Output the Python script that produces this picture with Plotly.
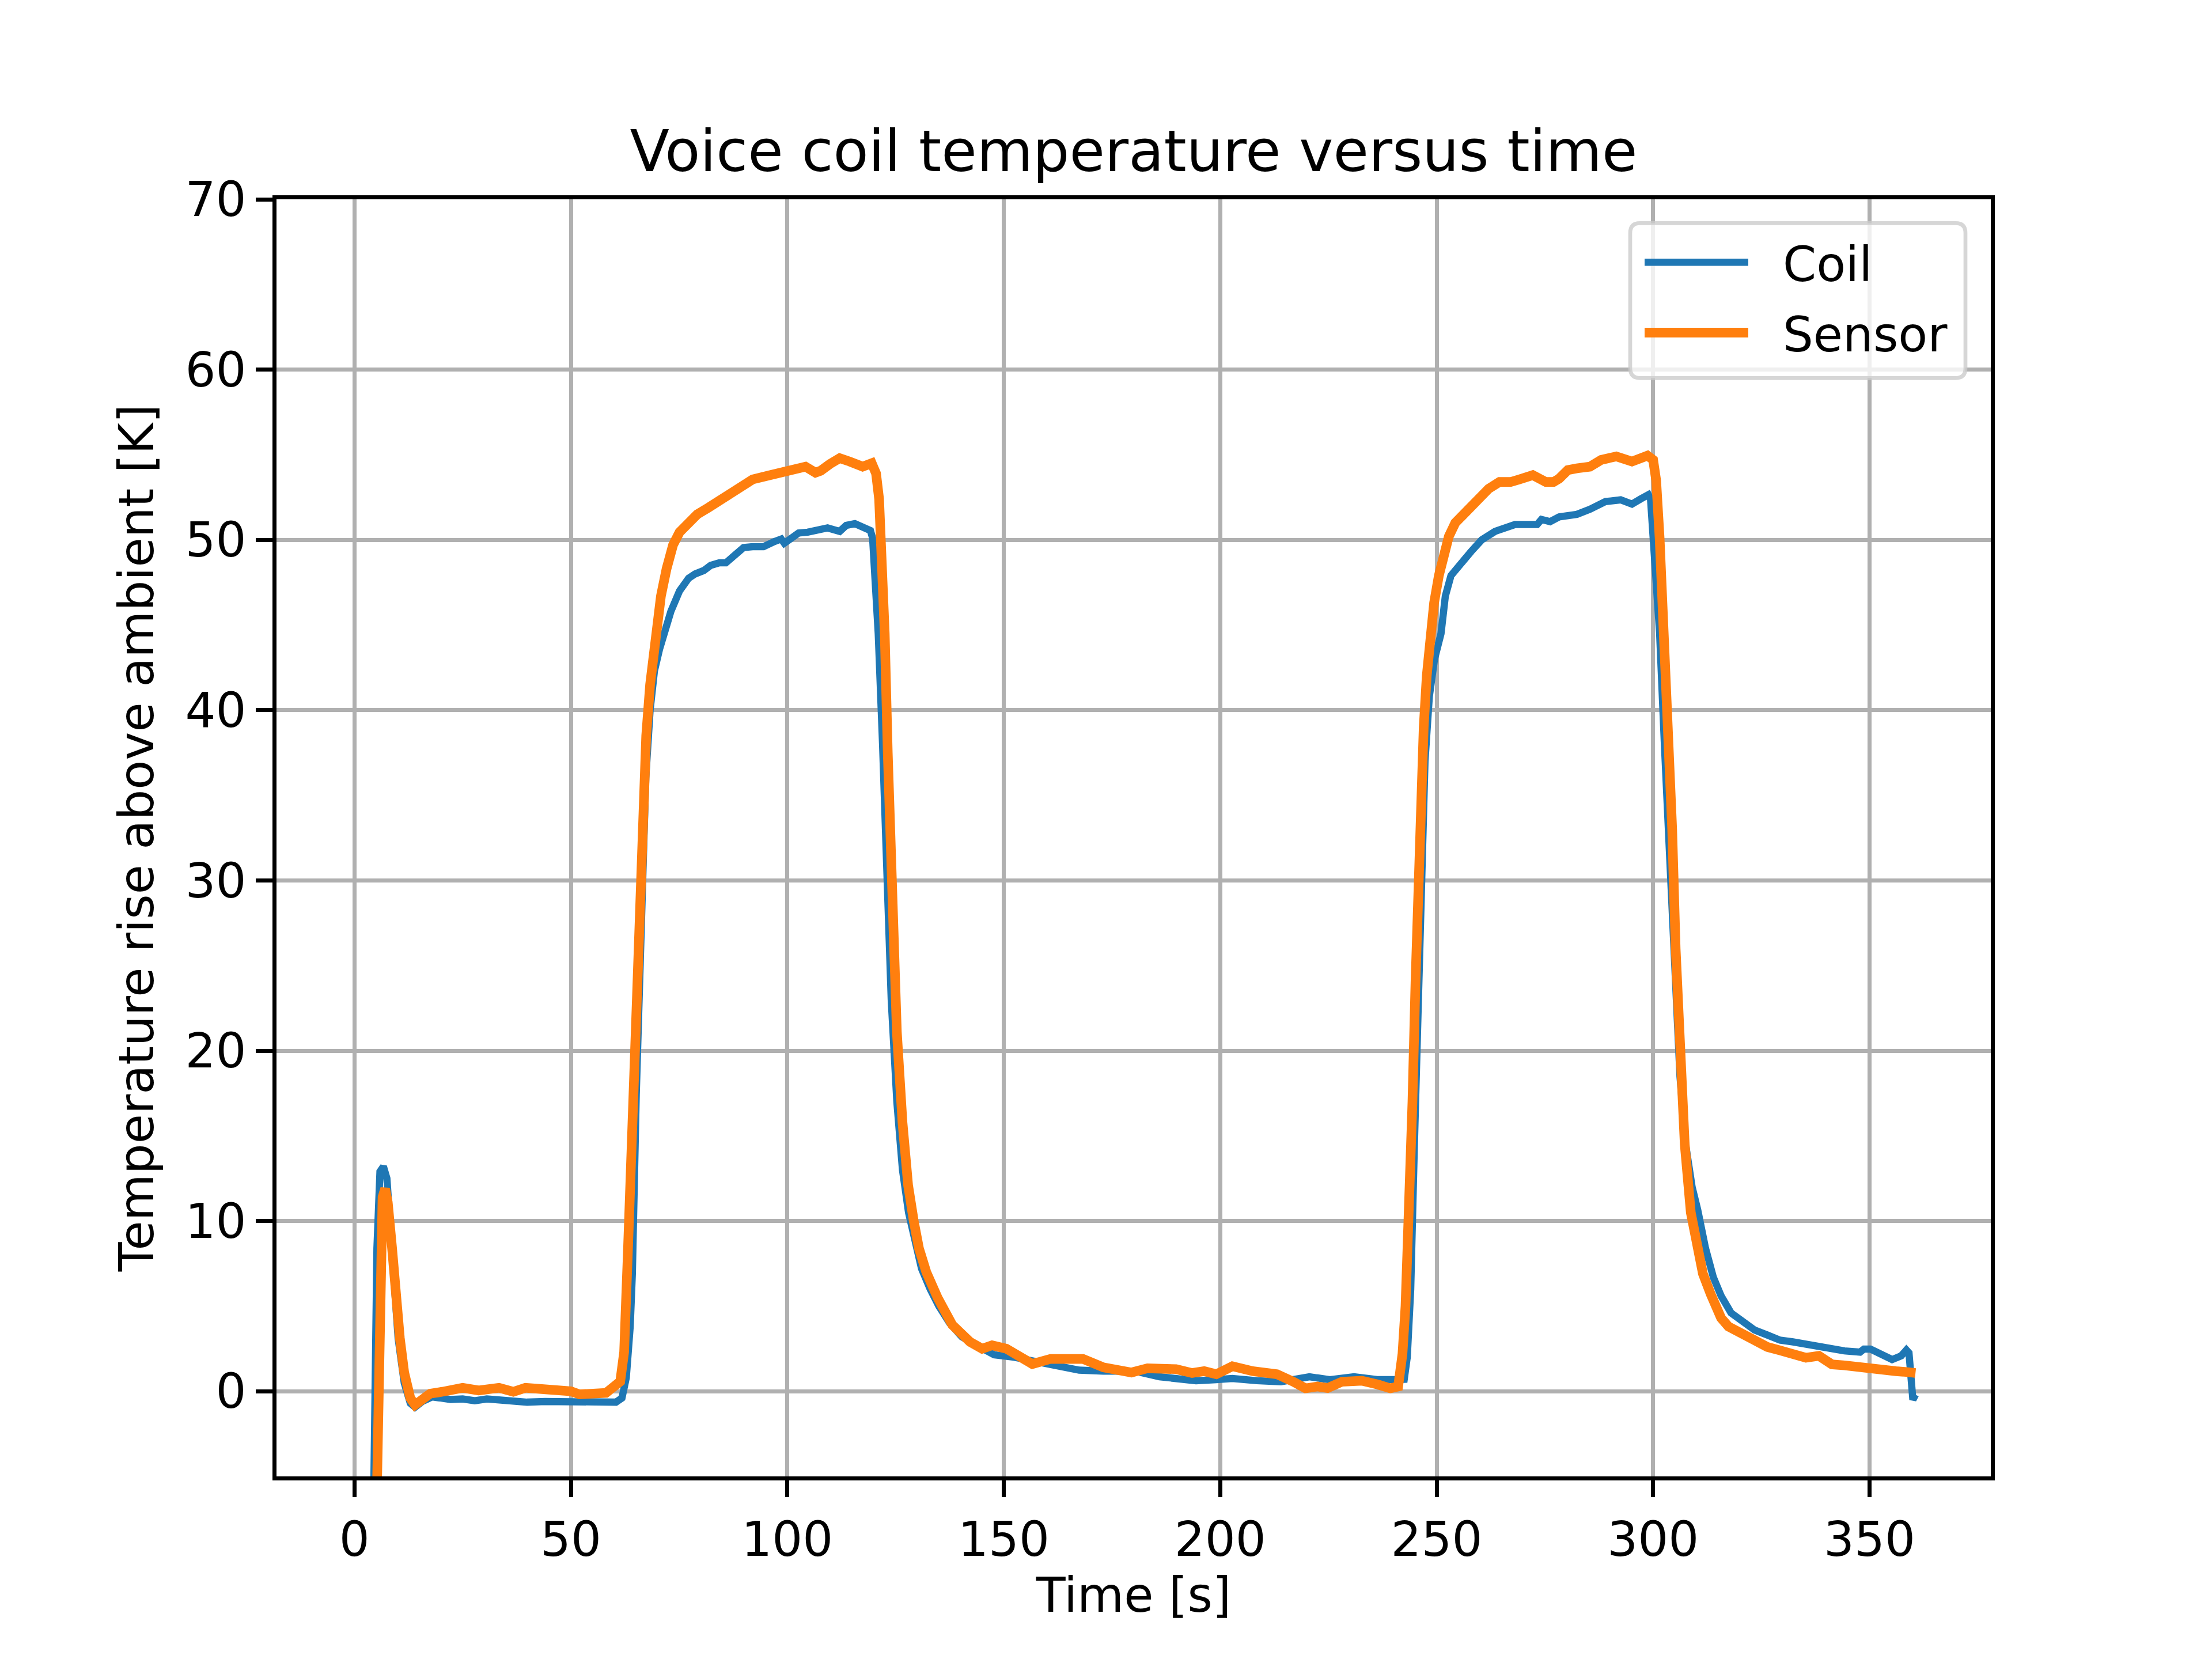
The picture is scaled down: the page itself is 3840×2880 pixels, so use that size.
import plotly.graph_objects as go

# ---------------- data ----------------
coil_t = [4.0, 5.2, 5.9, 6.7, 7.5, 8.2, 9.1, 10.1, 11.5, 12.9, 14.0, 15.7, 18.0, 22.2, 25.0, 27.8,
          30.6, 35.3, 39.9, 44.0, 47.4, 50.2, 56.7, 60.4, 61.8, 62.8, 63.7, 64.2, 65.1, 65.8, 66.5,
          67.3, 68.3, 69.3, 70.5, 71.6, 73.1, 75.1, 77.2, 78.7, 80.7, 82.3, 84.3, 85.8, 87.9, 89.9,
          92.0, 94.5, 97.0, 98.6, 99.3, 100.6, 102.6, 104.7, 106.2, 109.3, 112.1, 113.6, 115.6,
          117.4, 119.2, 119.7, 120.2, 121.0, 122.0, 123.0, 124.0, 125.3, 126.6, 128.0, 129.5,
          131.0, 133.0, 135.0, 137.5, 140.3, 143.0, 147.8, 152.4, 157.1, 161.8, 167.4, 173.0,
          180.4, 186.0, 194.4, 199.1, 202.8, 208.5, 214.0, 220.6, 225.3, 230.9, 236.5, 240.2,
          242.5, 243.2, 244.0, 244.8, 245.6, 246.4, 247.3, 248.3, 249.5, 251.0, 252.0, 253.3,
          254.8, 257.9, 260.4, 263.5, 268.1, 273.2, 274.2, 276.2, 278.3, 282.4, 285.4, 289.0,
          292.5, 295.1, 297.1, 298.9, 299.4, 299.9, 300.7, 301.5, 302.6, 303.8, 305.0, 306.2,
          307.5, 309.0, 310.3, 312.1, 313.9, 315.7, 318.0, 320.4, 323.4, 326.4, 329.3, 332.3,
          335.3, 338.3, 341.3, 344.2, 347.8, 348.7, 350.2, 352.6, 355.2, 357.3, 358.5, 359.1,
          359.7, 360.0, 360.6]
coil_k = [-15.0, 8.4, 12.9, 13.2, 12.5, 9.9, 6.1, 3.1, 0.5, -0.7, -0.94, -0.6, -0.33, -0.48, -0.45,
          -0.56, -0.45, -0.53, -0.64, -0.6, -0.59, -0.68, -0.64, -0.64, -0.4, 0.8, 3.8, 6.9, 17.4,
          24.0, 30.0, 36.0, 40.0, 42.3, 43.6, 44.5, 45.8, 47.0, 47.75, 48.0, 48.2, 48.5, 48.65,
          48.65, 49.1, 49.55, 49.6, 49.6, 49.9, 50.05, 49.8, 50.0, 50.4, 50.45, 50.5, 50.7, 50.5,
          50.85, 50.95, 50.7, 50.55, 50.1, 47.9, 44.5, 38.0, 30.0, 23.0, 17.0, 13.0, 10.5, 8.6,
          7.2, 6.0, 5.0, 4.0, 3.2, 2.8, 2.14, 2.0, 1.75, 1.52, 1.24, 1.18, 1.18, 0.85, 0.62, 0.68,
          0.75, 0.62, 0.56, 0.85, 0.68, 0.85, 0.68, 0.68, 0.7, 2.0, 6.0, 14.0, 22.0, 30.0, 37.0,
          40.8, 43.0, 44.5, 46.7, 47.9, 48.4, 49.3, 50.0, 50.5, 50.9, 50.9, 51.2, 51.07, 51.35,
          51.5, 51.8, 52.25, 52.35, 52.1, 52.4, 52.65, 52.4, 50.7, 47.9, 44.5, 38.0, 31.0, 24.0,
          18.5, 14.5, 12.0, 10.65, 8.4, 6.7, 5.6, 4.6, 4.1, 3.6, 3.3, 3.0, 2.9, 2.76, 2.65, 2.42,
          2.37, 2.3, 2.48, 2.48, 2.2, 1.86, 2.08, 2.42, 2.25, -0.4, -0.5, -0.2]

sensor_t = [4.5, 5.9, 6.5, 7.1, 7.7, 8.7, 9.6, 10.5, 11.5, 12.9, 14.0, 15.7, 17.5, 20.3, 22.0,
            25.0, 28.7, 31.0, 33.4, 36.7, 39.5, 43.7, 47.4, 50.0, 52.0, 56.7, 58.1, 61.4, 62.3,
            63.2, 64.2, 65.0, 65.8, 66.6, 67.4, 68.3, 69.5, 70.8, 72.1, 73.6, 75.1, 76.7, 79.2,
            81.8, 83.8, 85.8, 89.4, 92.0, 96.0, 99.1, 101.6, 104.2, 106.5, 107.7, 109.8, 112.1,
            114.4, 116.7, 117.4, 119.5, 120.5, 121.2, 121.8, 122.5, 123.2, 124.1, 125.3, 126.6,
            127.9, 129.2, 130.4, 132.1, 134.7, 138.1, 140.3, 142.2, 145.0, 147.3, 150.6, 154.3,
            156.6, 160.8, 163.6, 166.0, 168.3, 173.0, 179.5, 183.2, 189.8, 193.5, 196.3, 199.1,
            202.8, 207.5, 213.1, 216.9, 219.7, 222.5, 224.8, 228.1, 232.7, 236.5, 239.3, 241.1,
            242.1, 242.8, 243.5, 244.4, 245.1, 245.7, 246.4, 247.0, 247.7, 248.5, 249.4, 250.5,
            251.8, 252.8, 254.3, 256.4, 258.9, 262.0, 264.5, 267.1, 269.1, 272.2, 275.2, 277.0,
            278.3, 280.3, 282.4, 285.4, 288.0, 291.5, 295.1, 298.7, 300.0, 300.7, 301.5, 302.5,
            303.5, 304.4, 305.2, 306.1, 307.3, 308.7, 310.3, 311.5, 313.3, 315.7, 317.4, 320.4,
            323.4, 326.4, 329.3, 332.3, 335.3, 338.3, 339.5, 341.3, 344.2, 347.2, 350.2, 353.2,
            356.1, 358.5, 360.6]
sensor_k = [-15.0, 6.9, 11.4, 11.9, 11.1, 8.4, 5.3, 3.1, 1.1, -0.4, -0.8, -0.5, -0.14, -0.03, 0.05,
            0.2, 0.05, 0.12, 0.2, -0.03, 0.2, 0.12, 0.08, 0.0, -0.18, -0.18, -0.1, 0.57, 2.3, 8.4,
            15.9, 21.0, 28.0, 34.0, 38.5, 41.5, 44.5, 46.7, 48.3, 49.7, 50.45, 50.9, 51.5, 51.9,
            52.2, 52.6, 53.1, 53.55, 53.8, 53.95, 54.2, 54.3, 53.95, 54.06, 54.45, 54.8, 54.6,
            54.3, 54.3, 54.5, 53.9, 52.4, 49.0, 44.5, 37.5, 29.3, 21.1, 15.8, 12.1, 10.0, 8.4, 7.0,
            5.5, 3.9, 3.3, 2.9, 2.5, 2.7, 2.5, 1.9, 1.6, 1.9, 1.9, 1.8, 1.9, 1.4, 1.1, 1.35, 1.3,
            1.07, 1.18, 1.0, 1.47, 1.18, 1.0, 0.56, 0.17, 0.28, 0.19, 0.56, 0.62, 0.39, 0.17, 0.28,
            2.2, 5.0, 9.5, 17.0, 24.0, 29.5, 35.0, 39.0, 42.0, 44.5, 46.3, 47.9, 49.4, 50.2, 51.0,
            51.6, 52.25, 53.0, 53.4, 53.4, 53.55, 53.8, 53.4, 53.4, 53.6, 54.1, 54.2, 54.3, 54.7,
            54.9, 54.6, 54.95, 54.7, 53.5, 50.1, 44.5, 40.0, 33.0, 26.0, 20.5, 14.5, 10.5, 8.4,
            6.9, 5.7, 4.3, 3.8, 3.4, 3.0, 2.6, 2.4, 2.25, 1.97, 2.08, 1.9, 1.58, 1.52, 1.41, 1.3,
            1.18, 1.18, 1.13, 1.07]

series_names = ["Coil", "Sensor"]
series_colors = ["#1f77b4", "#ff7f0e"]
x_ticks = [0, 50, 100, 150, 200, 250, 300, 350]
y_ticks = [0, 10, 20, 30, 40, 50, 60, 70]

# ---------------- layout geometry (pixels) ----------------
W, H = 3840, 2880
L, R, T, B = 480, 3456, 345.6, 2563.2
PW, PH = R - L, B - T
FONT = "DejaVu Sans"
FS = 83.3


def px(X):
    return (X - L) / PW


def py(Y):
    return (B - Y) / PH


fig = go.Figure()
fig.add_trace(go.Scatter(x=coil_t, y=coil_k, mode="lines", name=series_names[0],
                         line=dict(color=series_colors[0], width=12.5), showlegend=False))
fig.add_trace(go.Scatter(x=sensor_t, y=sensor_k, mode="lines", name=series_names[1],
                         line=dict(color=series_colors[1], width=16.7), showlegend=False))

axis_common = dict(
    showline=True, linecolor="black", linewidth=6.67, mirror=True,
    ticks="outside", ticklen=29, tickwidth=6.67, tickcolor="black",
    showgrid=True, gridcolor="#b0b0b0", gridwidth=6.67, zeroline=False,
    tickfont=dict(family=FONT, size=FS, color="black"),
    automargin=False,
)

fig.update_xaxes(range=[-18, 378], tickvals=x_ticks, ticktext=[str(v) for v in x_ticks],
                 ticklabelstandoff=2,
                 title=dict(text="Time [s]", font=dict(family=FONT, size=FS, color="black"),
                            standoff=20),
                 **axis_common)
fig.update_yaxes(range=[-5, 70], tickvals=y_ticks, ticktext=[str(v) for v in y_ticks],
                 ticklabelstandoff=0,
                 title=dict(text="Temperature rise above ambient [K]",
                            font=dict(family=FONT, size=FS, color="black"), standoff=30),
                 **axis_common)

# legend drawn in matplotlib style (rounded frame, long line samples)
bx0, bx1, by0, by1, rr = 2830, 3412, 387, 656, 17
rx, ry = rr / PW, rr / PH
X0, X1, Y0, Y1 = px(bx0), px(bx1), py(by1), py(by0)
path = (f"M {X0 + rx},{Y0} L {X1 - rx},{Y0} Q {X1},{Y0} {X1},{Y0 + ry} "
        f"L {X1},{Y1 - ry} Q {X1},{Y1} {X1 - rx},{Y1} L {X0 + rx},{Y1} "
        f"Q {X0},{Y1} {X0},{Y1 - ry} L {X0},{Y0 + ry} Q {X0},{Y0} {X0 + rx},{Y0} Z")
shapes = [dict(type="path", path=path, xref="paper", yref="paper",
               fillcolor="rgba(255,255,255,0.8)",
               line=dict(color="rgba(204,204,204,0.8)", width=6.67), layer="above")]
annotations = []
legend_rows = [(455, 12.5), (577, 16.7)]
for i, (yy, lw) in enumerate(legend_rows):
    shapes.append(dict(type="line", xref="paper", yref="paper",
                       x0=px(2855), x1=px(3035), y0=py(yy), y1=py(yy),
                       line=dict(color=series_colors[i], width=lw), layer="above"))
    annotations.append(dict(text=series_names[i], xref="paper", yref="paper",
                            x=px(3093), y=py(yy + 4), xanchor="left", yanchor="middle",
                            showarrow=False, font=dict(family=FONT, size=FS, color="black")))

fig.update_layout(
    width=W, height=H,
    margin=dict(l=L, r=W - R, t=T, b=H - B, pad=0),
    paper_bgcolor="white", plot_bgcolor="white",
    title=dict(text="Voice coil temperature versus time", x=0.5 * (L + R) / W, xanchor="center",
               y=1 - 262 / H, yanchor="middle", yref="container",
               font=dict(family=FONT, size=100, color="black")),
    shapes=shapes, annotations=annotations, showlegend=False,
)

fig.write_html("out.html")
